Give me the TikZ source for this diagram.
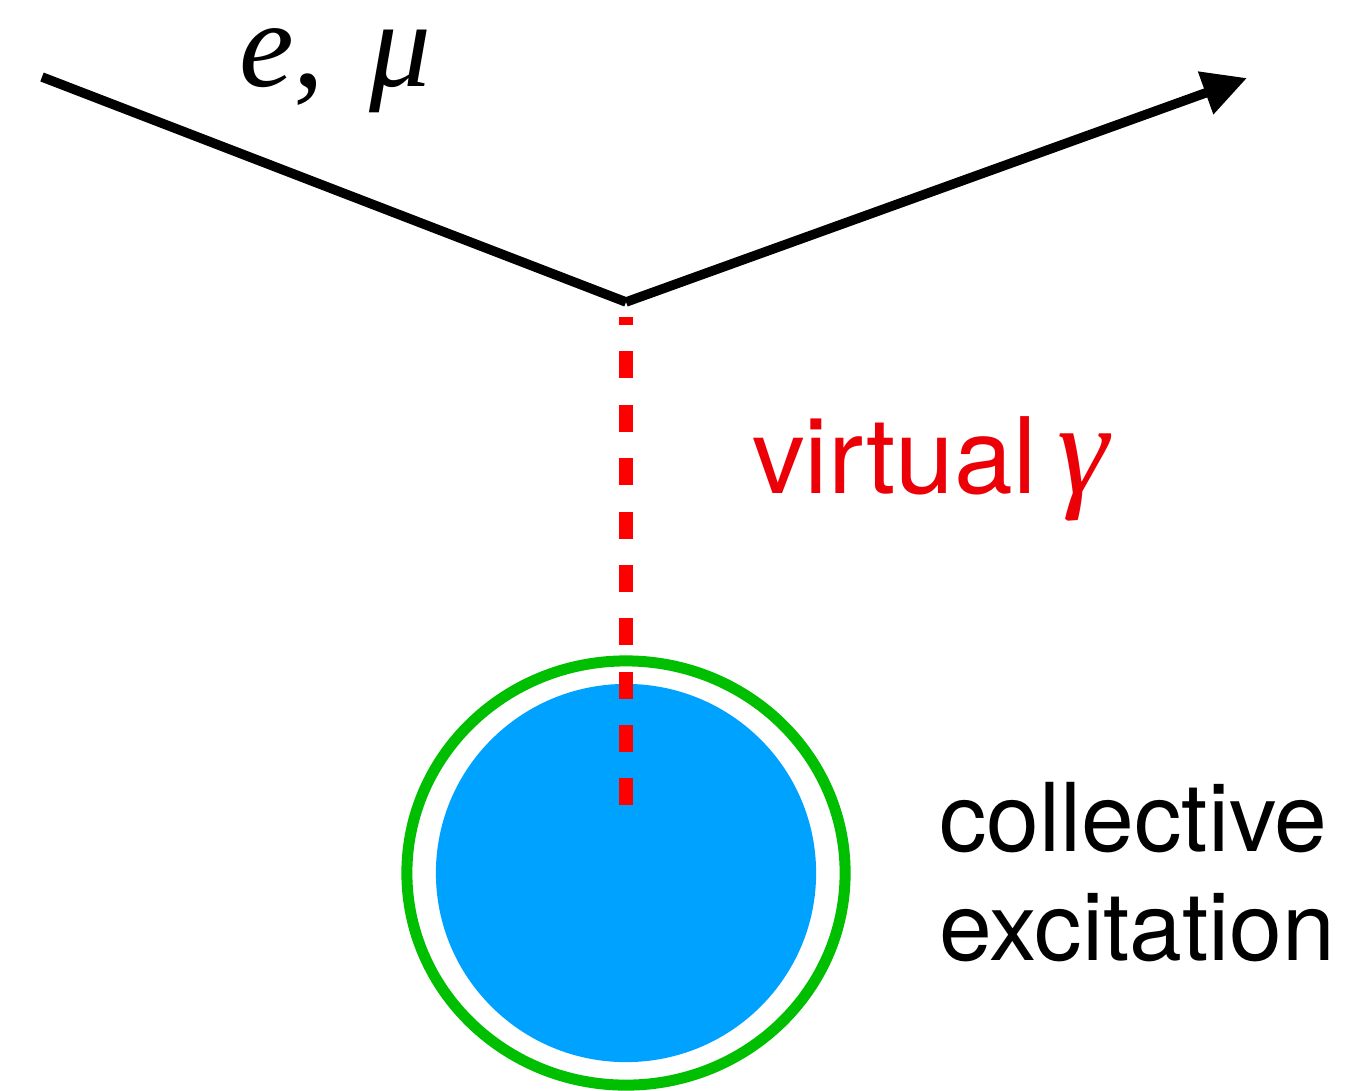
\documentclass[tikz,border=0pt]{standalone}
\usepackage{fontspec}
\setmainfont{TeX Gyre Heros}
\newfontfamily\tmsfont{Liberation Serif}
\usetikzlibrary{arrows.meta}
\definecolor{blobblue}{RGB}{0,162,255}
\definecolor{ringgreen}{RGB}{0,191,0}
\definecolor{dashred}{RGB}{255,0,0}
\definecolor{textred}{RGB}{236,0,8}
\tikzset{
  lepton/.style={line width=2.7pt, line join=miter},
  photon/.style={dashred, line width=3.84pt, dash pattern=on 7.68pt off 7.5pt, dash phase=5.4pt},
  lbl/.style={inner sep=0pt, outer sep=0pt, anchor=base west}
}
\begin{document}
\begin{tikzpicture}[x=0.01cm, y=-0.01cm]
\useasboundingbox (0,0) rectangle (1358,1090);
% collective excitation blob
\draw[ringgreen, line width=3.13pt] (626,873) ellipse [x radius=2.19cm, y radius=2.12cm];
\fill[blobblue] (626,873) ellipse [x radius=1.90cm, y radius=1.89cm];
% lepton lines
\coordinate (in) at (42,77);
\coordinate (v) at (626,302);
\coordinate (out) at (1247,78);
\coordinate (ph1) at (626,317);
\coordinate (ph2) at (626,805);
\draw[lepton] (in) -- (v);
\draw[lepton, -{Triangle[length=0.44cm, width=0.43cm]}] (v) -- (out);
% virtual photon
\draw[photon] (ph1) -- (ph2);
% labels
\node[lbl] (lep) at (239,86) {\fontsize{35pt}{38pt}\selectfont\tmsfont{\itshape e},\hspace{0.12em} {\itshape μ}};
\node[lbl, text=textred] (vg) at (752,493) {\fontsize{30pt}{34pt}\selectfont virtual\hspace{-0.08em} {\tmsfont\fontsize{37pt}{40pt}\selectfont\itshape γ}};
\node[lbl] (ce1) at (939,851) {\fontsize{27pt}{30pt}\selectfont collective};
\node[lbl] (ce2) at (939,960) {\fontsize{27pt}{30pt}\selectfont excitation};
\end{tikzpicture}
\end{document}
